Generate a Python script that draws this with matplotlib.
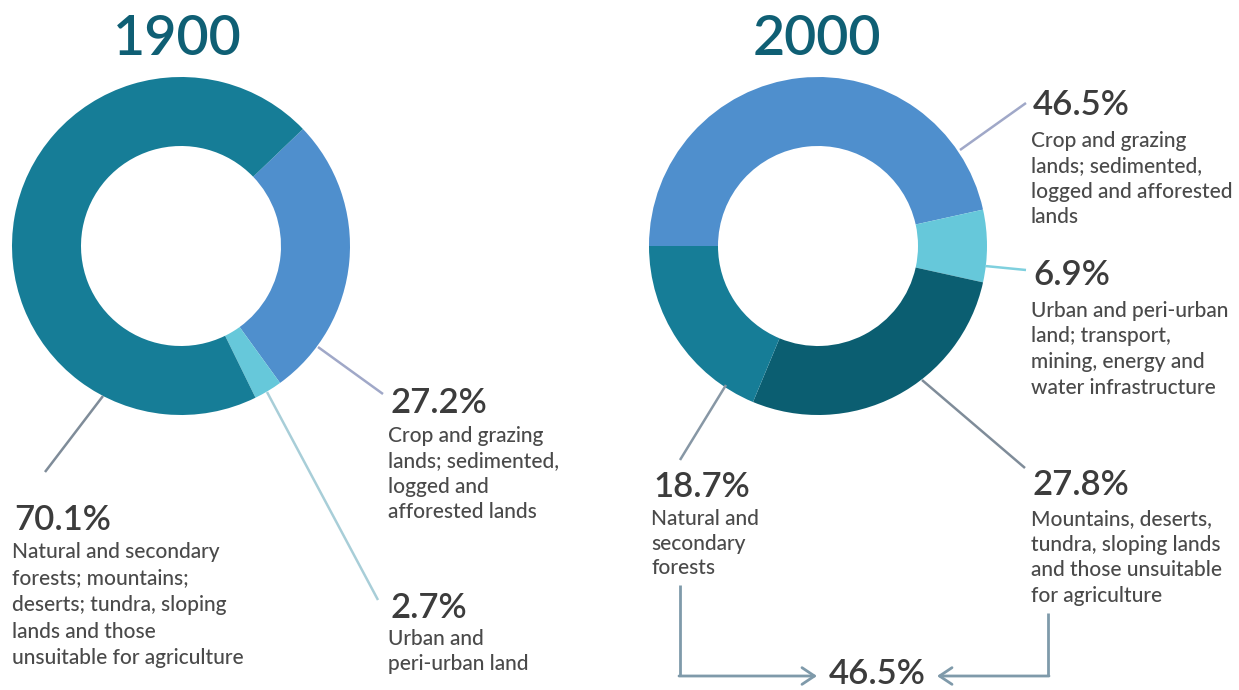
import matplotlib
matplotlib.use("Agg")
import matplotlib.pyplot as plt

# ---------------- data ----------------
years = ["1900", "2000"]

labels_1900 = ["Crop and grazing lands", "Urban and peri-urban land", "Natural and secondary forests etc."]
values_1900 = [27.2, 2.7, 70.1]

labels_2000 = ["Crop and grazing lands", "Urban and peri-urban land", "Mountains, deserts, tundra", "Natural and secondary forests"]
values_2000 = [46.5, 6.9, 27.8, 18.7]

combined_2000 = 46.5  # 18.7 + 27.8

# ---------------- style ----------------
W, H = 1239, 690
C_TEAL = "#167D97"
C_BLUE = "#4F8FCD"
C_CYAN = "#66C8DA"
C_DARK = "#0B5E71"
C_TITLE = "#0F5F74"
C_PCT = "#3C3C3C"
C_BODY = "#4A4A4A"
FONT = ["Lato", "DejaVu Sans"]

fig = plt.figure(figsize=(W / 100, H / 100), dpi=100)
ax = fig.add_axes([0, 0, 1, 1])

def Y(y):
    return H - y

R, RW = 169, 69
c1 = (181, Y(246))
c2 = (818, Y(246))

ax.pie(values_1900, colors=[C_BLUE, C_CYAN, C_TEAL], startangle=43.8, counterclock=False,
       radius=R, center=c1, wedgeprops=dict(width=RW, edgecolor="none"))
ax.pie(values_2000, colors=[C_BLUE, C_CYAN, C_DARK, C_TEAL], startangle=180, counterclock=False,
       radius=R, center=c2, wedgeprops=dict(width=RW, edgecolor="none"))

ax.set_xlim(0, W)
ax.set_ylim(0, H)
ax.set_aspect("equal")
ax.axis("off")

# titles
ax.text(177, Y(55), years[0], ha="center", va="baseline", fontsize=40, color=C_TITLE,
        family=FONT, fontweight="semibold")
ax.text(817, Y(55), years[1], ha="center", va="baseline", fontsize=40, color=C_TITLE,
        family=FONT, fontweight="semibold")

def label(x, ybase, pct, lines, spacing=26.0, gap=30):
    ax.text(x + 2, Y(ybase), pct, ha="left", va="baseline", fontsize=25, color=C_PCT,
            family=FONT, fontweight="semibold")
    for i, ln in enumerate(lines):
        ax.text(x, Y(ybase + gap + i * spacing), ln, ha="left", va="baseline",
                fontsize=15, color=C_BODY, family=FONT, fontweight="medium")

def leader(p0, p1, color):
    ax.plot([p0[0], p1[0]], [Y(p0[1]), Y(p1[1])], color=color, lw=1.8, solid_capstyle="butt")

# 1900 labels
leader((103, 396), (45, 472), "#7F8C99")
label(12, 530, f"{values_1900[2]}%", ["Natural and secondary", "forests; mountains;",
      "deserts; tundra, sloping", "lands and those", "unsuitable for agriculture"], spacing=26.5, gap=28)
leader((318, 347), (383, 394), "#A0A8C8")
label(388, 413, f"{values_1900[0]}%", ["Crop and grazing", "lands; sedimented,", "logged and",
      "afforested lands"], spacing=25.5, gap=29)
leader((267, 392), (378, 600), "#A8CED8")
label(388, 618, f"{values_1900[1]}%", ["Urban and", "peri-urban land"], spacing=25.5, gap=27)

# 2000 labels
leader((960, 150), (1026, 103), "#A0A8C8")
label(1031, 115, f"{values_2000[0]}%", ["Crop and grazing", "lands; sedimented,",
      "logged and afforested", "lands"], spacing=25.3, gap=32)
leader((985, 266), (1026, 270), "#7FD0DE")
label(1031, 285, f"{values_2000[1]}%", ["Urban and peri-urban", "land; transport,",
      "mining, energy and", "water infrastructure"], spacing=25.5, gap=32)
leader((922, 380), (1025, 468), "#7F8C99")
label(1031, 495, f"{values_2000[2]}%", ["Mountains, deserts,", "tundra, sloping lands",
      "and those unsuitable", "for agriculture"], spacing=25.7, gap=30)
leader((726, 385), (680, 460), "#8797A5")
label(651, 497, f"{values_2000[3]}%", ["Natural and", "secondary", "forests"], spacing=24.5, gap=28)

# bracket arrows to combined value
ARROW_C = "#7F9AAA"
ARROW_Y = 676
ax.plot([680, 680], [Y(585), Y(ARROW_Y)], color=ARROW_C, lw=2, solid_capstyle="butt")
ax.annotate("", xy=(817, Y(ARROW_Y)), xytext=(679, Y(ARROW_Y)),
            arrowprops=dict(arrowstyle="->,head_length=0.9,head_width=0.6", color=ARROW_C, lw=2,
                            shrinkA=0, shrinkB=0))
ax.plot([1048, 1048], [Y(613), Y(ARROW_Y)], color=ARROW_C, lw=2, solid_capstyle="butt")
ax.annotate("", xy=(937, Y(ARROW_Y)), xytext=(1049, Y(ARROW_Y)),
            arrowprops=dict(arrowstyle="->,head_length=0.9,head_width=0.6", color=ARROW_C, lw=2,
                            shrinkA=0, shrinkB=0))
ax.text(877, Y(684), f"{combined_2000}%", ha="center", va="baseline", fontsize=25, color=C_PCT,
        family=FONT, fontweight="semibold")

fig.savefig("out.png", dpi=100, facecolor="white")
